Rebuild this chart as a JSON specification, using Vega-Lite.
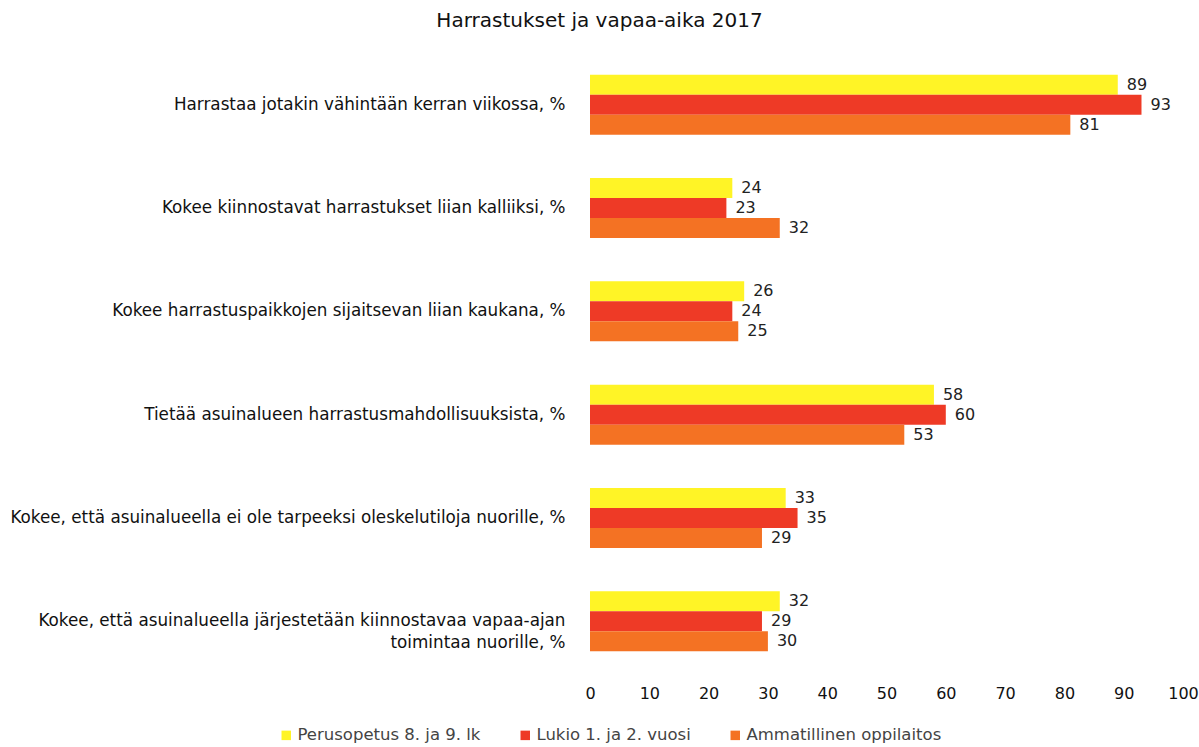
{
  "$schema": "https://vega.github.io/schema/vega-lite/v6.json",
  "autosize": {"type": "none"},
  "width": 593,
  "height": 620,
  "padding": {"left": 590, "top": 53, "right": 16, "bottom": 74},
  "background": "white",
  "title": {
    "text": "Harrastukset ja vapaa-aika  2017",
    "anchor": "middle",
    "frame": "group",
    "font": "DejaVu Sans",
    "fontSize": 20,
    "fontWeight": "normal",
    "color": "#111",
    "dx": -287,
    "offset": 22
  },
  "config": {
    "view": {"stroke": null},
    "font": "DejaVu Sans"
  },
  "data": {
    "values": [
      {"k": "Harrastaa jotakin vähintään kerran viikossa, %", "s": "Perusopetus 8. ja 9. lk", "v": 89},
      {"k": "Harrastaa jotakin vähintään kerran viikossa, %", "s": "Lukio 1. ja 2. vuosi", "v": 93},
      {"k": "Harrastaa jotakin vähintään kerran viikossa, %", "s": "Ammatillinen oppilaitos", "v": 81},
      {"k": "Kokee kiinnostavat harrastukset liian kalliiksi, %", "s": "Perusopetus 8. ja 9. lk", "v": 24},
      {"k": "Kokee kiinnostavat harrastukset liian kalliiksi, %", "s": "Lukio 1. ja 2. vuosi", "v": 23},
      {"k": "Kokee kiinnostavat harrastukset liian kalliiksi, %", "s": "Ammatillinen oppilaitos", "v": 32},
      {"k": "Kokee harrastuspaikkojen sijaitsevan liian kaukana, %", "s": "Perusopetus 8. ja 9. lk", "v": 26},
      {"k": "Kokee harrastuspaikkojen sijaitsevan liian kaukana, %", "s": "Lukio 1. ja 2. vuosi", "v": 24},
      {"k": "Kokee harrastuspaikkojen sijaitsevan liian kaukana, %", "s": "Ammatillinen oppilaitos", "v": 25},
      {"k": "Tietää asuinalueen harrastusmahdollisuuksista, %", "s": "Perusopetus 8. ja 9. lk", "v": 58},
      {"k": "Tietää asuinalueen harrastusmahdollisuuksista, %", "s": "Lukio 1. ja 2. vuosi", "v": 60},
      {"k": "Tietää asuinalueen harrastusmahdollisuuksista, %", "s": "Ammatillinen oppilaitos", "v": 53},
      {"k": "Kokee, että asuinalueella ei ole tarpeeksi oleskelutiloja nuorille, %", "s": "Perusopetus 8. ja 9. lk", "v": 33},
      {"k": "Kokee, että asuinalueella ei ole tarpeeksi oleskelutiloja nuorille, %", "s": "Lukio 1. ja 2. vuosi", "v": 35},
      {"k": "Kokee, että asuinalueella ei ole tarpeeksi oleskelutiloja nuorille, %", "s": "Ammatillinen oppilaitos", "v": 29},
      {"k": "Kokee, että asuinalueella järjestetään kiinnostavaa vapaa-ajan|toimintaa nuorille, %", "s": "Perusopetus 8. ja 9. lk", "v": 32},
      {"k": "Kokee, että asuinalueella järjestetään kiinnostavaa vapaa-ajan|toimintaa nuorille, %", "s": "Lukio 1. ja 2. vuosi", "v": 29},
      {"k": "Kokee, että asuinalueella järjestetään kiinnostavaa vapaa-ajan|toimintaa nuorille, %", "s": "Ammatillinen oppilaitos", "v": 30}
    ]
  },
  "encoding": {
    "y": {
      "field": "k",
      "type": "nominal",
      "sort": null,
      "scale": {"paddingInner": 0.42, "paddingOuter": 0.21},
      "axis": {
        "title": null,
        "domain": false,
        "ticks": false,
        "labelPadding": 25,
        "labelLimit": 600,
        "labelFontSize": 16.8,
        "labelColor": "#111",
        "labelExpr": "split(datum.label, '|')",
        "labelLineHeight": 22
      }
    },
    "yOffset": {
      "field": "s",
      "type": "nominal",
      "sort": ["Perusopetus 8. ja 9. lk", "Lukio 1. ja 2. vuosi", "Ammatillinen oppilaitos"],
      "scale": {"paddingInner": 0, "paddingOuter": 0}
    },
    "x": {
      "field": "v",
      "type": "quantitative",
      "scale": {"domain": [0, 100], "nice": false},
      "axis": {
        "title": null,
        "domain": false,
        "ticks": false,
        "grid": false,
        "values": [0, 10, 20, 30, 40, 50, 60, 70, 80, 90, 100],
        "labelFontSize": 16,
        "labelColor": "#111",
        "labelPadding": 12,
        "labelFlush": false
      }
    }
  },
  "layer": [
    {
      "mark": {"type": "bar"},
      "encoding": {
        "color": {
          "field": "s",
          "type": "nominal",
          "scale": {
            "domain": ["Perusopetus 8. ja 9. lk", "Lukio 1. ja 2. vuosi", "Ammatillinen oppilaitos"],
            "range": ["#FFF426", "#EE3A26", "#F47223"]
          },
          "legend": {
            "title": null,
            "orient": "none",
            "direction": "horizontal",
            "legendX": -312,
            "legendY": 674,
            "symbolType": "square",
            "symbolSize": 90,
            "symbolStrokeWidth": 0,
            "labelFontSize": 16.5,
            "labelColor": "#444",
            "labelOffset": 3,
            "columnPadding": 36,
            "labelLimit": 300
          }
        }
      }
    },
    {
      "mark": {"type": "text", "align": "left", "dx": 9, "fontSize": 16, "color": "#222"},
      "encoding": {
        "text": {"field": "v", "type": "quantitative"}
      }
    }
  ]
}
